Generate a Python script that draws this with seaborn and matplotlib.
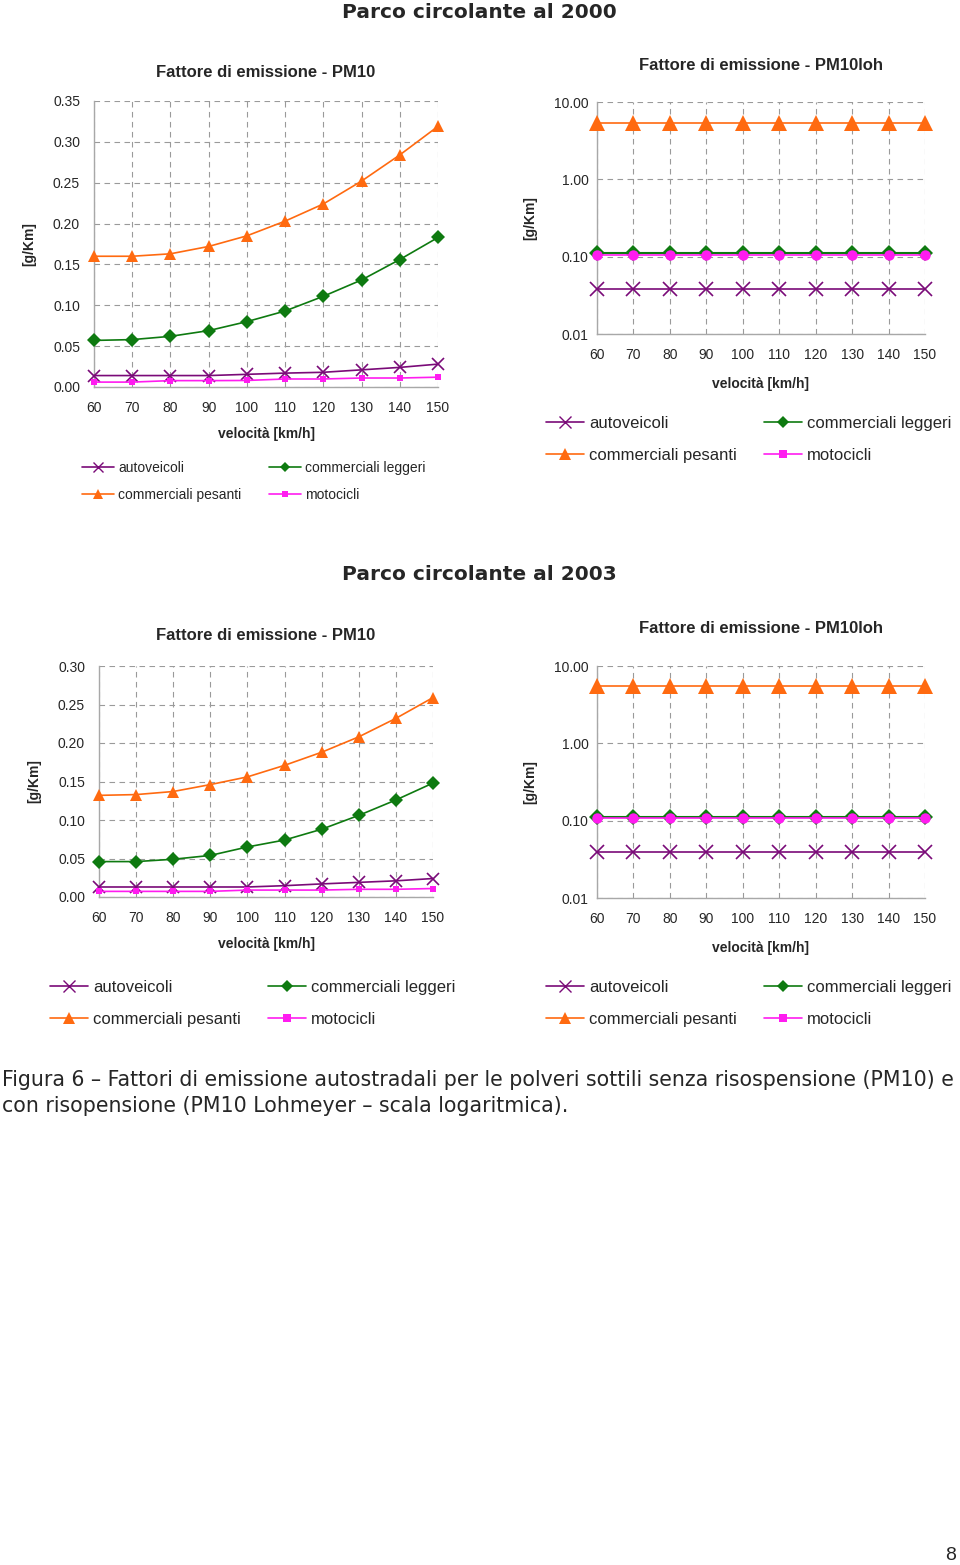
import matplotlib
matplotlib.use('Agg')
import matplotlib.pyplot as plt
from matplotlib.lines import Line2D
from matplotlib.ticker import FixedLocator, FormatStrFormatter, NullLocator
import seaborn as sns

# ===========
# DATA
# ===========

speed = [60, 70, 80, 90, 100, 110, 120, 130, 140, 150]

# Parco circolante al 2000 - PM10
auto_2000 = [0.014, 0.014, 0.014, 0.014, 0.0155, 0.017, 0.018, 0.021, 0.024, 0.028]
leggeri_2000 = [0.057, 0.058, 0.062, 0.069, 0.080, 0.093, 0.111, 0.131, 0.156, 0.183]
pesanti_2000 = [0.160, 0.160, 0.163, 0.172, 0.185, 0.203, 0.224, 0.252, 0.284, 0.319]
moto_2000 = [0.006, 0.006, 0.0078, 0.0078, 0.008, 0.0098, 0.0098, 0.011, 0.011, 0.012]

# Parco circolante al 2000 - PM10loh
auto_loh_2000 = [0.038, 0.038, 0.038, 0.038, 0.038, 0.038, 0.038, 0.038, 0.038, 0.038]
leggeri_loh_2000 = [0.110, 0.110, 0.110, 0.110, 0.110, 0.110, 0.110, 0.110, 0.110, 0.110]
pesanti_loh_2000 = [5.40, 5.40, 5.40, 5.40, 5.40, 5.40, 5.40, 5.40, 5.40, 5.40]
moto_loh_2000 = [0.106, 0.106, 0.106, 0.106, 0.106, 0.106, 0.106, 0.106, 0.106, 0.106]

# Parco circolante al 2003 - PM10
auto_2003 = [0.013, 0.013, 0.013, 0.013, 0.013, 0.0147, 0.017, 0.019, 0.021, 0.024]
leggeri_2003 = [0.046, 0.046, 0.049, 0.054, 0.065, 0.074, 0.088, 0.106, 0.126, 0.148]
pesanti_2003 = [0.132, 0.133, 0.137, 0.146, 0.156, 0.171, 0.188, 0.208, 0.232, 0.259]
moto_2003 = [0.0073, 0.0073, 0.0073, 0.0073, 0.009, 0.009, 0.009, 0.010, 0.010, 0.011]

# Parco circolante al 2003 - PM10loh
auto_loh_2003 = [0.039, 0.039, 0.039, 0.039, 0.039, 0.039, 0.039, 0.039, 0.039, 0.039]
leggeri_loh_2003 = [0.112, 0.112, 0.112, 0.112, 0.112, 0.112, 0.112, 0.112, 0.112, 0.112]
pesanti_loh_2003 = [5.46, 5.46, 5.46, 5.46, 5.46, 5.46, 5.46, 5.46, 5.46, 5.46]
moto_loh_2003 = [0.108, 0.108, 0.108, 0.108, 0.108, 0.108, 0.108, 0.108, 0.108, 0.108]

names = ['autoveicoli', 'commerciali leggeri', 'commerciali pesanti', 'motocicli']

# ===========
# STYLE
# ===========

sns.set_style('white')
plt.rcParams['font.family'] = ['Liberation Sans', 'DejaVu Sans']

PURPLE = '#7A0A78'
GREEN = '#0E7A10'
ORANGE = '#FF6A10'
MAGENTA = '#FF1CF0'
GRID = '#9A9A9A'

W, H = 960, 1565
fig = plt.figure(figsize=(W / 100, H / 100), dpi=100)


def rect(x0, x1, ytop, ybot):
    '''pixel box -> figure fraction'''
    return [x0 / W, 1 - ybot / H, (x1 - x0) / W, (ybot - ytop) / H]


def style_axes(ax, title, pad, ypad):
    ax.set_xlim(60, 150)
    ax.xaxis.set_major_locator(FixedLocator(speed))
    ax.grid(True, which='major', color=GRID, linestyle=(0, (5, 4)), linewidth=0.8)
    for s in ['top', 'right']:
        ax.spines[s].set_visible(False)
    for s in ['left', 'bottom']:
        ax.spines[s].set_color('#A8A8A8')
        ax.spines[s].set_linewidth(1.0)
    ax.tick_params(axis='x', length=0, labelsize=10, pad=10)
    ax.tick_params(axis='y', length=0, labelsize=10, pad=ypad)
    ax.set_title(title, fontsize=12, fontweight='bold', pad=pad)
    ax.set_ylabel('[g/Km]', fontsize=10, fontweight='bold', labelpad=12)


def draw_lines(ax, auto, leggeri, pesanti, moto, log=False):
    big = 1.3 if log else 1.0
    sns.lineplot(x=speed, y=auto, ax=ax, color=PURPLE, marker='x', markersize=8 * big,
                 markeredgecolor=PURPLE, markeredgewidth=1.2, linewidth=1.2,
                 clip_on=False, zorder=4)
    sns.lineplot(x=speed, y=pesanti, ax=ax, color=ORANGE, marker='^', markersize=9 * big,
                 markeredgecolor=ORANGE, markeredgewidth=0, linewidth=1.2,
                 clip_on=False, zorder=4)
    sns.lineplot(x=speed, y=leggeri, ax=ax, color=GREEN, marker='D',
                 markersize=7 * (1.1 if log else 1.0), markeredgecolor=GREEN,
                 markeredgewidth=0, linewidth=1.5 if log else 1.2, clip_on=False, zorder=4)
    sns.lineplot(x=speed, y=moto, ax=ax, color=MAGENTA, marker='o' if log else 's',
                 markersize=7.5 if log else 5, markeredgecolor=MAGENTA, markeredgewidth=0,
                 linewidth=1.2, clip_on=False, zorder=5)


def add_legend(x, y, size, colspace, rowspace):
    def h(color, marker, ms):
        return Line2D([0], [0], color=color, marker=marker, markersize=ms,
                      markeredgecolor=color,
                      markeredgewidth=1.0 if marker == 'x' else 0, linewidth=1.2)
    k = size / 10.0
    handles = [h(PURPLE, 'x', 7 * k), h(ORANGE, '^', 7 * k),
               h(GREEN, 'D', 5 * k), h(MAGENTA, 's', 5 * k)]
    labels = [names[0], names[2], names[1], names[3]]
    fig.legend(handles, labels, loc='upper left', bbox_to_anchor=(x / W, 1 - y / H),
               ncol=2, frameon=False, fontsize=size, handlelength=2.3,
               handletextpad=0.3, columnspacing=colspace, labelspacing=rowspace,
               borderaxespad=0, borderpad=0)


def linear_panel(box, auto, leggeri, pesanti, moto, ymax, pad):
    ax = fig.add_axes(rect(*box))
    draw_lines(ax, auto, leggeri, pesanti, moto)
    style_axes(ax, 'Fattore di emissione - PM10', pad, 10)
    ax.set_ylim(0, ymax)
    ax.yaxis.set_major_locator(FixedLocator([i * 0.05 for i in range(int(round(ymax / 0.05)) + 1)]))
    ax.yaxis.set_major_formatter(FormatStrFormatter('%.2f'))
    ax.set_xlabel('velocità [km/h]', fontsize=10, fontweight='bold', labelpad=9)
    return ax


def log_panel(box, auto, leggeri, pesanti, moto, pad):
    ax = fig.add_axes(rect(*box))
    draw_lines(ax, auto, leggeri, pesanti, moto, log=True)
    ax.set_yscale('log')
    style_axes(ax, 'Fattore di emissione - PM10loh', pad, 6)
    ax.set_ylim(0.01, 10)
    ax.yaxis.set_major_locator(FixedLocator([0.01, 0.1, 1, 10]))
    ax.yaxis.set_minor_locator(NullLocator())
    ax.yaxis.set_major_formatter(FormatStrFormatter('%.2f'))
    ax.set_xlabel('velocità [km/h]', fontsize=10, fontweight='bold', labelpad=11)
    return ax


# ===========
# PARCO 2000
# ===========

fig.text(479 / W, 1 - 12 / H, 'Parco circolante al 2000', ha='center', va='center',
         fontsize=14.5, fontweight='bold', family='DejaVu Sans')
linear_panel((94, 438, 101, 387), auto_2000, leggeri_2000, pesanti_2000, moto_2000, 0.35, 17)
log_panel((597, 925, 102, 334), auto_loh_2000, leggeri_loh_2000, pesanti_loh_2000,
          moto_loh_2000, 23)
add_legend(82, 461, 10, 2.0, 0.95)
add_legend(546, 416, 12, 1.6, 1.0)

# ===========
# PARCO 2003
# ===========

fig.text(479 / W, 1 - 575 / H, 'Parco circolante al 2003', ha='center', va='center',
         fontsize=14.5, fontweight='bold', family='DejaVu Sans')
linear_panel((99, 433, 666, 897), auto_2003, leggeri_2003, pesanti_2003, moto_2003, 0.30, 19)
log_panel((597, 925, 666, 898), auto_loh_2003, leggeri_loh_2003, pesanti_loh_2003,
          moto_loh_2003, 24)
add_legend(50, 980, 12, 1.6, 1.0)
add_legend(546, 980, 12, 1.6, 1.0)

# ===========
# CAPTION
# ===========

fig.text(2 / W, 1 - 1080 / H,
         'Figura 6 \u2013 Fattori di emissione autostradali per le polveri sottili senza '
         'risospensione (PM10) e', ha='left', va='center', fontsize=14.8, family='DejaVu Sans')
fig.text(2 / W, 1 - 1106 / H,
         'con risopensione (PM10 Lohmeyer \u2013 scala logaritmica).',
         ha='left', va='center', fontsize=14.8, family='DejaVu Sans')
fig.text(951 / W, 1 - 1555 / H, '8', ha='center', va='center', fontsize=14)

fig.savefig('out.png', dpi=100)
